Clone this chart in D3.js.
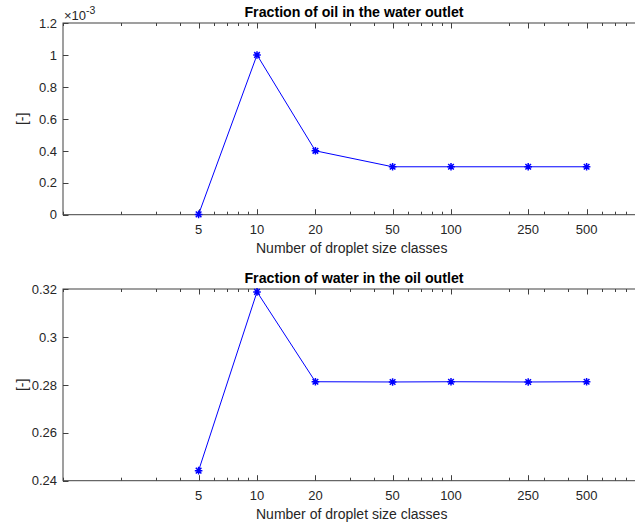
<!DOCTYPE html>
<html lang="en">
<head>
    <meta charset="UTF-8">
    <title>Fraction of oil / water in outlets</title>
    <script src="https://d3js.org/d3.v7.min.js"></script>
    <style>
        body { margin: 0; background: #fff; }
        svg { display: block; font-family: "Liberation Sans", Arial, sans-serif; }
    </style>
</head>
<body>
    <div id="chart"></div>

    <script>
        // Data
        const classes = [5, 10, 20, 50, 100, 250, 500];
        const oilInWater = [0.000002, 0.001, 0.0004, 0.0003, 0.0003, 0.0003, 0.0003];
        const waterInOil = [0.2442, 0.3188, 0.2813, 0.2812, 0.2813, 0.2812, 0.2813];

        const xTickLabels = ["5", "10", "20", "50", "100", "250", "500"];
        const yTicksTop = [0, 0.0002, 0.0004, 0.0006, 0.0008, 0.001, 0.0012];
        const yTickLabelsTop = ["0", "0.2", "0.4", "0.6", "0.8", "1", "1.2"];
        const yTicksBottom = [0.24, 0.26, 0.28, 0.3, 0.32];
        const yTickLabelsBottom = ["0.24", "0.26", "0.28", "0.3", "0.32"];

        const width = 635;
        const height = 524;
        const axisColor = "#404040";
        const lineColor = "#0000ff";

        const svg = d3.select("#chart")
            .append("svg")
            .attr("width", width)
            .attr("height", height);

        // x extends past the picture edge (domain 1..1000), as in the reference
        const x = d3.scaleLog().domain([1, 1000]).range([63, 645]);

        // minor log ticks: 1..9 * 10^k, skipping the labelled ones
        const minorTicks = [];
        [1, 10, 100].forEach(p => {
            for (let m = 1; m <= 9; m++) {
                const v = m * p;
                if (!classes.includes(v)) minorTicks.push(v);
            }
        });

        function panel(opts) {
            const y = d3.scaleLinear().domain(opts.yDomain).range([opts.bottom, opts.top]);
            const g = svg.append("g");
            const [x0, x1] = x.range();

            // box
            g.append("rect")
                .attr("x", x0).attr("y", opts.top)
                .attr("width", x1 - x0).attr("height", opts.bottom - opts.top)
                .attr("fill", "none").attr("stroke", axisColor).attr("stroke-width", 1);

            // x ticks, inward on bottom and top
            const ticks = classes.map(v => ({ v, len: 5.5 }))
                .concat(minorTicks.map(v => ({ v, len: 3 })));
            ticks.forEach(t => {
                const px = Math.round(x(t.v)) + 0.5;
                g.append("line")
                    .attr("x1", px).attr("x2", px)
                    .attr("y1", opts.bottom).attr("y2", opts.bottom - t.len)
                    .attr("stroke", axisColor);
                g.append("line")
                    .attr("x1", px).attr("x2", px)
                    .attr("y1", opts.top).attr("y2", opts.top + t.len)
                    .attr("stroke", axisColor);
            });

            g.selectAll(".xl")
                .data(classes)
                .join("text")
                .attr("x", d => x(d))
                .attr("y", opts.bottom + 19)
                .attr("text-anchor", "middle")
                .attr("font-size", 13)
                .attr("fill", "#262626")
                .text((d, i) => xTickLabels[i]);

            // y ticks
            opts.yTicks.forEach((v, i) => {
                const py = Math.round(y(v)) + 0.5;
                g.append("line")
                    .attr("x1", x0).attr("x2", x0 + 5.5)
                    .attr("y1", py).attr("y2", py)
                    .attr("stroke", axisColor);
                g.append("line")
                    .attr("x1", x1).attr("x2", x1 - 5.5)
                    .attr("y1", py).attr("y2", py)
                    .attr("stroke", axisColor);
                g.append("text")
                    .attr("x", x0 - 6)
                    .attr("y", y(v) + 4.7)
                    .attr("text-anchor", "end")
                    .attr("font-size", 13)
                    .attr("fill", "#262626")
                    .text(opts.yTickLabels[i]);
            });

            // labels
            g.append("text")
                .attr("x", (x0 + x1) / 2)
                .attr("y", opts.top - 6)
                .attr("text-anchor", "middle")
                .attr("font-size", 14.2)
                .attr("font-weight", "bold")
                .attr("fill", "#000")
                .text(opts.title);

            g.append("text")
                .attr("x", 351.7)
                .attr("y", opts.bottom + 38)
                .attr("text-anchor", "middle")
                .attr("font-size", 14)
                .attr("fill", "#262626")
                .text("Number of droplet size classes");

            g.append("text")
                .attr("transform", `translate(27,${(opts.top + opts.bottom) / 2}) rotate(-90)`)
                .attr("text-anchor", "middle")
                .attr("font-size", 14)
                .attr("fill", "#262626")
                .text("[-]");

            // data line + asterisk markers
            const line = d3.line().x((d, i) => x(classes[i])).y(d => y(d));
            g.append("path")
                .datum(opts.values)
                .attr("d", line)
                .attr("fill", "none")
                .attr("stroke", lineColor)
                .attr("stroke-width", 1);

            const star = "M-3.8,0H3.8M0,-3.8V3.8M-2.8,-2.8L2.8,2.8M-2.8,2.8L2.8,-2.8";
            g.selectAll(".mk")
                .data(opts.values)
                .join("path")
                .attr("transform", (d, i) => `translate(${x(classes[i])},${y(d)})`)
                .attr("d", star)
                .attr("fill", "none")
                .attr("stroke", lineColor)
                .attr("stroke-width", 1.5);

            return g;
        }

        const topPanel = panel({
            top: 23, bottom: 214.7,
            yDomain: [0, 0.0012],
            yTicks: yTicksTop, yTickLabels: yTickLabelsTop,
            values: oilInWater,
            title: "Fraction of oil in the water outlet"
        });

        // exponent of the y axis
        const expo = topPanel.append("text")
            .attr("x", 64)
            .attr("y", 20)
            .attr("font-size", 13)
            .attr("fill", "#262626");
        expo.append("tspan").text("\u00d710");
        expo.append("tspan").attr("dy", -6).attr("font-size", 10.5).text("-3");

        panel({
            top: 289, bottom: 480.7,
            yDomain: [0.24, 0.32],
            yTicks: yTicksBottom, yTickLabels: yTickLabelsBottom,
            values: waterInOil,
            title: "Fraction of water in the oil outlet"
        });
    </script>
</body>
</html>
